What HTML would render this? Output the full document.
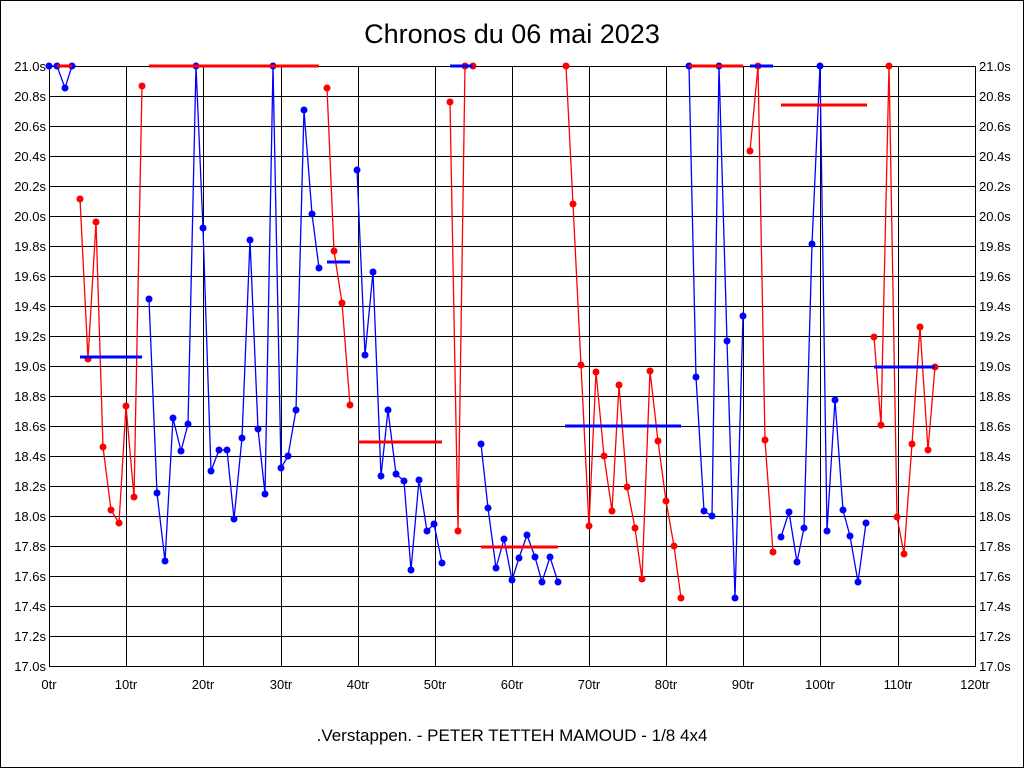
<!DOCTYPE html>
<html><head><meta charset="utf-8"><style>
html,body{margin:0;padding:0;background:#fff}
svg{display:block}
text{font-family:"Liberation Sans",Arial,sans-serif;fill:#000}
</style></head><body>
<svg width="1024" height="768" viewBox="0 0 1024 768" xmlns="http://www.w3.org/2000/svg">
<defs>
<marker id="mb" markerWidth="8" markerHeight="8" refX="4" refY="4" markerUnits="userSpaceOnUse"><circle cx="4" cy="4" r="3.5" fill="#0000ff"/></marker>
<marker id="mr" markerWidth="8" markerHeight="8" refX="4" refY="4" markerUnits="userSpaceOnUse"><circle cx="4" cy="4" r="3.5" fill="#ff0000"/></marker>
</defs>
<rect x="0.5" y="0.5" width="1023" height="767" fill="#fff" stroke="#000"/>
<text x="512" y="43" font-size="27" text-anchor="middle">Chronos du 06 mai 2023</text>
<g stroke="#000" stroke-width="1" fill="none">
<rect x="49.5" y="66.5" width="926" height="600"/>
<path d="M49 96.5H975M49 126.5H975M49 156.5H975M49 186.5H975M49 216.5H975M49 246.5H975M49 276.5H975M49 306.5H975M49 336.5H975M49 366.5H975M49 396.5H975M49 426.5H975M49 456.5H975M49 486.5H975M49 516.5H975M49 546.5H975M49 576.5H975M49 606.5H975M49 636.5H975"/>
<path d="M126.5 66V666M203.5 66V666M281.5 66V666M358.5 66V666M435.5 66V666M512.5 66V666M589.5 66V666M666.5 66V666M743.5 66V666M820.5 66V666M898.5 66V666"/>
</g>
<g font-size="13" text-anchor="end">
<text x="46" y="71">21.0s</text><text x="46" y="101">20.8s</text><text x="46" y="131">20.6s</text><text x="46" y="161">20.4s</text><text x="46" y="191">20.2s</text><text x="46" y="221">20.0s</text><text x="46" y="251">19.8s</text><text x="46" y="281">19.6s</text><text x="46" y="311">19.4s</text><text x="46" y="341">19.2s</text><text x="46" y="371">19.0s</text><text x="46" y="401">18.8s</text><text x="46" y="431">18.6s</text><text x="46" y="461">18.4s</text><text x="46" y="491">18.2s</text><text x="46" y="521">18.0s</text><text x="46" y="551">17.8s</text><text x="46" y="581">17.6s</text><text x="46" y="611">17.4s</text><text x="46" y="641">17.2s</text><text x="46" y="671">17.0s</text>
</g>
<g font-size="13">
<text x="979" y="71">21.0s</text><text x="979" y="101">20.8s</text><text x="979" y="131">20.6s</text><text x="979" y="161">20.4s</text><text x="979" y="191">20.2s</text><text x="979" y="221">20.0s</text><text x="979" y="251">19.8s</text><text x="979" y="281">19.6s</text><text x="979" y="311">19.4s</text><text x="979" y="341">19.2s</text><text x="979" y="371">19.0s</text><text x="979" y="401">18.8s</text><text x="979" y="431">18.6s</text><text x="979" y="461">18.4s</text><text x="979" y="491">18.2s</text><text x="979" y="521">18.0s</text><text x="979" y="551">17.8s</text><text x="979" y="581">17.6s</text><text x="979" y="611">17.4s</text><text x="979" y="641">17.2s</text><text x="979" y="671">17.0s</text>
</g>
<g font-size="13" text-anchor="middle">
<text x="49" y="689">0tr</text><text x="126" y="689">10tr</text><text x="203" y="689">20tr</text><text x="281" y="689">30tr</text><text x="358" y="689">40tr</text><text x="435" y="689">50tr</text><text x="512" y="689">60tr</text><text x="589" y="689">70tr</text><text x="666" y="689">80tr</text><text x="743" y="689">90tr</text><text x="820" y="689">100tr</text><text x="898" y="689">110tr</text><text x="975" y="689">120tr</text>
</g>
<text x="512" y="741" font-size="17" text-anchor="middle">.Verstappen. - PETER TETTEH MAMOUD - 1/8 4x4</text>

<g fill="none" stroke-width="1.3">
<polyline stroke="#0000ff" marker-start="url(#mb)" marker-mid="url(#mb)" marker-end="url(#mb)" points="49,66 57,66 65,88 72,66"/>
<polyline stroke="#ff0000" marker-start="url(#mr)" marker-mid="url(#mr)" marker-end="url(#mr)" points="80,199 88,359 96,222 103,447 111,510 119,523 126,406 134,497 142,86"/>
<polyline stroke="#0000ff" marker-start="url(#mb)" marker-mid="url(#mb)" marker-end="url(#mb)" points="149,299 157,493 165,561 173,418 181,451 188,424 196,66 203,228 211,471 219,450 227,450 234,519 242,438 250,240 258,429 265,494 273,66 281,468 288,456 296,410 304,110 312,214 319,268"/>
<polyline stroke="#ff0000" marker-start="url(#mr)" marker-mid="url(#mr)" marker-end="url(#mr)" points="327,88 334,251 342,303 350,405"/>
<polyline stroke="#0000ff" marker-start="url(#mb)" marker-mid="url(#mb)" marker-end="url(#mb)" points="357,170 365,355 373,272 381,476 388,410 396,474 404,481 411,570 419,480 427,531 434,524 442,563"/>
<polyline stroke="#ff0000" marker-start="url(#mr)" marker-mid="url(#mr)" marker-end="url(#mr)" points="450,102 458,531 465,66 473,66"/>
<polyline stroke="#0000ff" marker-start="url(#mb)" marker-mid="url(#mb)" marker-end="url(#mb)" points="481,444 488,508 496,568 504,539 512,580 519,558 527,535 535,557 542,582 550,557 558,582"/>
<polyline stroke="#ff0000" marker-start="url(#mr)" marker-mid="url(#mr)" marker-end="url(#mr)" points="566,66 573,204 581,365 589,526 596,372 604,456 612,511 619,385 627,487 635,528 642,579 650,371 658,441 666,501 674,546 681,598"/>
<polyline stroke="#0000ff" marker-start="url(#mb)" marker-mid="url(#mb)" marker-end="url(#mb)" points="689,66 696,377 704,511 712,516 719,66 727,341 735,598 743,316"/>
<polyline stroke="#ff0000" marker-start="url(#mr)" marker-mid="url(#mr)" marker-end="url(#mr)" points="750,151 758,66 765,440 773,552"/>
<polyline stroke="#0000ff" marker-start="url(#mb)" marker-mid="url(#mb)" marker-end="url(#mb)" points="781,537 789,512 797,562 804,528 812,244 820,66 827,531 835,400 843,510 850,536 858,582 866,523"/>
<polyline stroke="#ff0000" marker-start="url(#mr)" marker-mid="url(#mr)" marker-end="url(#mr)" points="874,337 881,425 889,66 897,517 904,554 912,444 920,327 928,450 935,367"/>
</g>
<g stroke-width="3" fill="none">
<path stroke="#ff0000" d="M57 66H72M149 66H319M358 442H442M481 547H558M689 66H743M781 105H867"/>
<path stroke="#0000ff" d="M80 357H142M327 262H350M450 66H473M565 426H681M750 66H773M874 367H935"/>
</g>
</svg>
</body></html>
